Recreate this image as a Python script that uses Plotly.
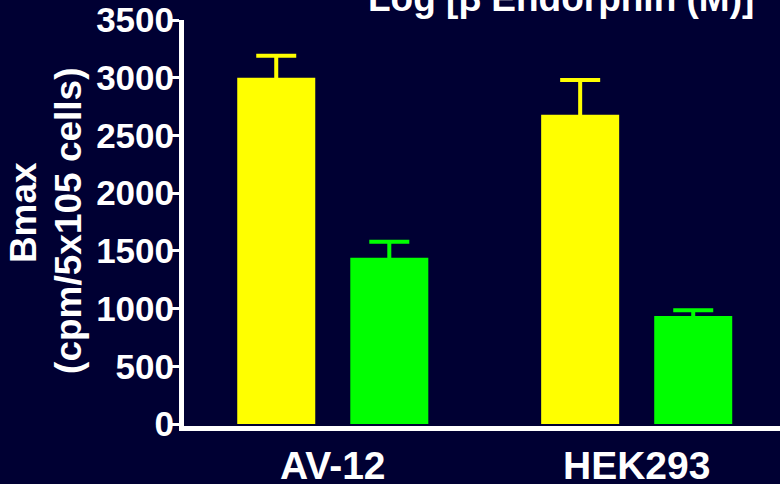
import plotly.graph_objects as go

categories = ["AV-12", "HEK293"]
yellow_vals = [3000, 2680]
yellow_err = [190, 300]
green_vals = [1440, 935]
green_err = [140, 50]
y_ticks = [0, 500, 1000, 1500, 2000, 2500, 3000, 3500]

BG = "#000033"
FONT = "Liberation Sans"

fig = go.Figure()
fig.add_trace(go.Bar(
    x=categories, y=yellow_vals, marker=dict(color="#FFFF00", line=dict(width=0)),
    error_y=dict(type="data", array=yellow_err, symmetric=True,
                 color="#FFFF00", thickness=4, width=20),
    showlegend=False))
fig.add_trace(go.Bar(
    x=categories, y=green_vals, marker=dict(color="#00FF00", line=dict(width=0)),
    error_y=dict(type="data", array=green_err, symmetric=True,
                 color="#00FF00", thickness=4, width=20),
    showlegend=False))

fig.update_layout(
    width=780, height=484,
    margin=dict(l=184, r=0, t=20, b=58, autoexpand=False),
    paper_bgcolor=BG, plot_bgcolor=BG,
    barmode="group", bargap=0.256, bargroupgap=0.31,
    font=dict(family=FONT, color="white", weight=700),
    xaxis=dict(range=[-0.4895, 1.4715], showline=True, linecolor="white", linewidth=5,
               ticks="", showgrid=False, zeroline=False, ticklabelstandoff=1,
               automargin=False,
               tickfont=dict(size=39, family=FONT, color="white", weight=700)),
    yaxis=dict(range=[-17.2, 3500], tickvals=y_ticks, showline=True, linecolor="white",
               linewidth=5, ticks="outside", ticklen=9, tickwidth=3, tickcolor="white",
               showgrid=False, zeroline=False, ticklabelstandoff=-11,
               automargin=False,
               tickfont=dict(size=35, family=FONT, color="white", weight=700)),
    annotations=[
        dict(text="Bmax", xref="paper", yref="paper", x=-0.268, y=0.525,
             textangle=-90, showarrow=False, xanchor="center", yanchor="middle",
             font=dict(size=37, family=FONT, color="white", weight=700)),
        dict(text="(cpm/5x105 cells)", xref="paper", yref="paper", x=-0.193, y=0.505,
             textangle=-90, showarrow=False, xanchor="center", yanchor="middle",
             font=dict(size=37, family=FONT, color="white", weight=700)),
        dict(text="Log [β Endorphin (M)]", xref="paper", yref="paper", x=0.632, y=1.0,
             showarrow=False, xanchor="center", yanchor="bottom", borderpad=0,
             font=dict(size=37, family=FONT, color="white", weight=700)),
    ],
)

fig.write_html("out.html")
